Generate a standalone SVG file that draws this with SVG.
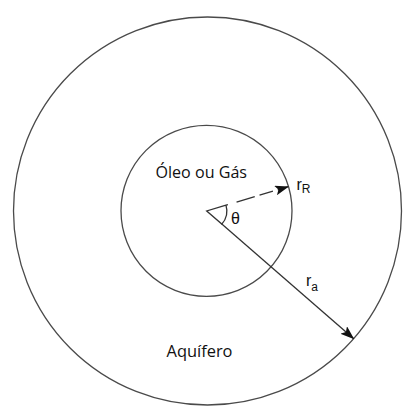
<svg xmlns="http://www.w3.org/2000/svg" width="416" height="416" viewBox="0 0 416 416">
<defs>
<style>
.ring{fill:none;stroke:#4a4a4a;stroke-width:1.3}
.ln{fill:none;stroke:#333;stroke-width:1.3}
.t{font-family:"Open Sans","Noto Sans",sans-serif;fill:#111}
.s{font-family:"Liberation Sans",Arial,sans-serif;fill:#111}
</style>
<marker id="ah" markerWidth="14" markerHeight="10" refX="13" refY="5" orient="auto" markerUnits="userSpaceOnUse">
<path d="M0,0 L14,5 L0,10 L3,5 z" fill="#111"/>
</marker>
</defs>
<rect width="416" height="416" fill="#fff"/>
<g id="outer"><circle class="ring" cx="207.5" cy="211" r="194"/></g>
<g id="inner"><circle class="ring" cx="206.5" cy="210.8" r="85.5"/></g>
<g id="connectors">
<path id="angle" class="ln" d="M226,205.2 L206.7,211 L221.8,224.1 A20,20 0 0 0 226,205.2"/>
<line class="ln" x1="226" y1="205.2" x2="288" y2="186.7" stroke-dasharray="2 9 19 5 14 5 40" marker-end="url(#ah)"/>
<line class="ln" x1="221.8" y1="224.1" x2="353.5" y2="338.5" marker-end="url(#ah)"/>
</g>
<g id="labels">
<text class="t" x="155.5" y="178" font-size="16" textLength="91.5" lengthAdjust="spacingAndGlyphs">Óleo ou Gás</text>
<text class="t" x="166.5" y="357" font-size="16" textLength="66" lengthAdjust="spacingAndGlyphs">Aquífero</text>
<text class="s" x="231" y="224" font-size="16">θ</text>
<text class="s" x="296.5" y="190" font-size="16">r<tspan font-size="12" dy="3.3">R</tspan></text>
<text class="s" x="306" y="286" font-size="16">r<tspan font-size="12" dy="4.5">a</tspan></text>
</g>
</svg>
